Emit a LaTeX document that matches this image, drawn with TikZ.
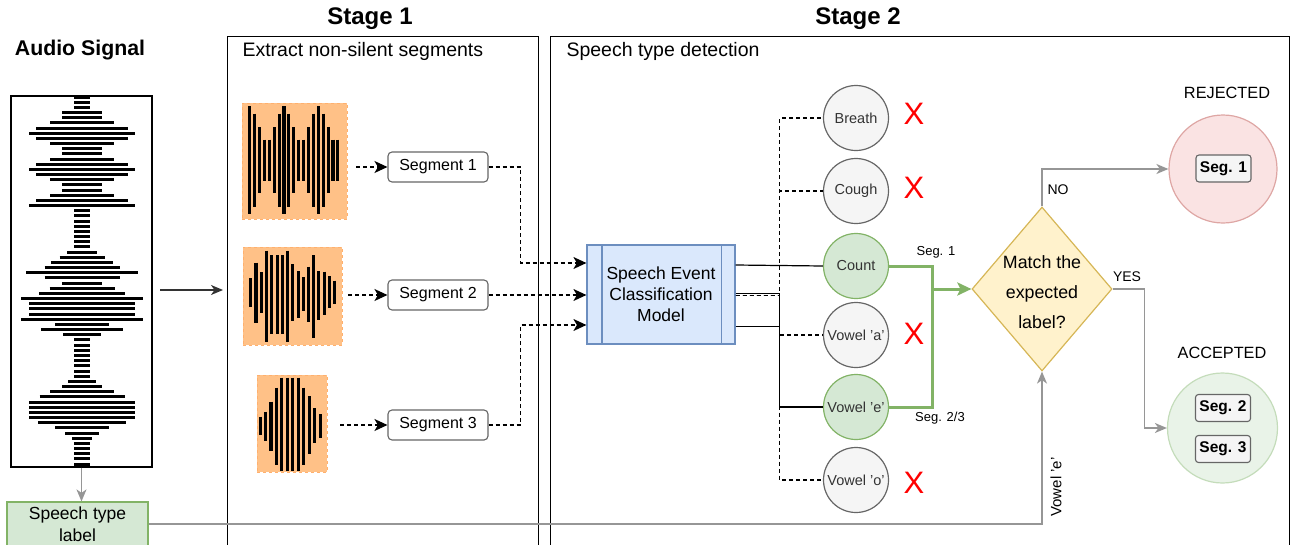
\documentclass[tikz,border=0pt]{standalone}
\usepackage{fontspec}
\setmainfont{Liberation Sans}
\usetikzlibrary{arrows.meta,shapes.geometric}

\definecolor{orangefill}{RGB}{255,193,135}
\definecolor{orangeline}{RGB}{255,176,110}
\definecolor{modelfill}{RGB}{218,232,252}
\definecolor{modelline}{RGB}{108,142,191}
\definecolor{greenfill}{RGB}{213,232,212}
\definecolor{greenline}{RGB}{130,179,102}
\definecolor{grayfill}{RGB}{245,245,245}
\definecolor{grayline}{RGB}{102,102,102}
\definecolor{textgray}{RGB}{51,51,51}
\definecolor{decfill}{RGB}{255,242,204}
\definecolor{decline}{RGB}{214,182,86}
\definecolor{rejfill}{RGB}{250,227,227}
\definecolor{rejline}{RGB}{222,166,164}
\definecolor{accfill}{RGB}{233,243,232}
\definecolor{accline}{RGB}{196,220,186}
\definecolor{arrowgray}{RGB}{150,150,150}

\begin{document}
\begin{tikzpicture}[x=1pt,y=-1pt,
  title/.style={font=\bfseries\fontsize{22}{26}\selectfont},
  boxlabel/.style={anchor=west,font=\fontsize{19.5}{23}\selectfont},
  stagebox/.style={draw=black,line width=1.4pt,anchor=north west,inner sep=0pt},
  wavebox/.style={fill=orangefill,draw=orangeline,dashed,line width=0.9pt,inner sep=0pt},
  bar/.style={line width=3.1pt,black},
  segbox/.style={draw=grayline,fill=white,rounded corners=4pt,line width=1.1pt,
    minimum width=100pt,minimum height=30pt,inner sep=0pt,font=\fontsize{16}{19}\selectfont},
  classnode/.style={circle,minimum size=65pt,inner sep=0pt,line width=1.2pt,
    font=\fontsize{14.5}{17}\selectfont,text=textgray},
  graycirc/.style={classnode,fill=grayfill,draw=grayline},
  okcirc/.style={classnode,fill=greenfill,draw=greenline},
  cross/.style={text=red,font=\fontsize{31}{31}\selectfont,inner sep=0pt},
  dashconn/.style={draw=black,line width=1.2pt,dash pattern=on 4pt off 3pt},
  dasharrow/.style={dashconn,-{Stealth[length=13pt,width=12pt,inset=3.5pt]}},
  solidconn/.style={draw=black,line width=1.2pt},
  grayarrow/.style={draw=arrowgray,line width=1.5pt,-{Stealth[length=12pt,width=10pt,inset=3.5pt]}},
  darkarrow/.style={draw=textgray,line width=1.3pt,-{Stealth[length=12pt,width=10pt,inset=3.5pt]}},
  greenconn/.style={draw=greenline,line width=3pt},
  greenarrow/.style={greenconn,-{Stealth[length=14pt,width=13pt,inset=3pt]}},
  tag/.style={font=\fontsize{13}{15}\selectfont,text=black},
  branch/.style={font=\fontsize{14}{16}\selectfont},
  segtag/.style={draw=grayline,fill=grayfill,rounded corners=3pt,line width=1.1pt,
    minimum width=55pt,minimum height=27pt,inner sep=0pt,font=\bfseries\fontsize{15.5}{18}\selectfont},
  state/.style={font=\fontsize{16.3}{19}\selectfont}
]
\useasboundingbox (0,0) rectangle (1296,544);
\clip (0,0) rectangle (1296,544);

% headings
\node[title,font=\bfseries\fontsize{21.3}{25}\selectfont] (ttlaudio) at (80,50) {Audio Signal};
\node[title,font=\bfseries\fontsize{24}{28}\selectfont] (ttlone) at (370,19) {Stage 1};
\node[title,font=\bfseries\fontsize{24}{28}\selectfont] (ttltwo) at (858,19) {Stage 2};

% stage frames
\node[stagebox,minimum width=311pt,minimum height=530pt] (stageone) at (227,36) {};
\node[stagebox,minimum width=739pt,minimum height=530pt] (stagetwo) at (550,36) {};
\node[boxlabel] (lblone) at (239,51) {Extract non-silent segments};
\node[boxlabel] (lbltwo) at (563,51) {Speech type detection};

% full audio signal
\node[draw=black,line width=1.4pt,minimum width=141pt,minimum height=371pt,inner sep=0pt] (audio) at (81.5,281.5) {};
\foreach \hw [count=\i from 0] in {8,8,8,20,20,32,46,53,46,32,20,20,32,46,53,46,32,20,20,32,46,53,
    8,8,8,8,8,8,8,8,
    15,22.5,31,37.5,56,37.5,20,32.5,43,61,53,53,53,61,27,41,19,
    8,8,8,8,8,8,8,8,
    14,20,32,42.5,53,53,53,53,44,27,17,10,
    8,8,8,8,8} {
  \pgfmathsetmacro\yy{97+5.17*\i}
  \draw[line width=3pt] ({82-\hw},\yy) -- ({82+\hw},\yy);
}

% speech type label
\node[draw=greenline,fill=greenfill,line width=1.2pt,minimum width=141pt,minimum height=44pt,
  inner sep=0pt,align=center,font=\fontsize{17.5}{21.5}\selectfont] (stlabel) at (77.5,524) {Speech type\\label};
\draw[grayarrow] (audio.south) -- (audio.south |- stlabel.north);

% audio into stage 1
\coordinate (feedA) at (160,290);
\coordinate (feedB) at (223,290);
\draw[darkarrow] (feedA) -- (feedB);

% non-silent segments
\node[wavebox,minimum width=105pt,minimum height=116pt] (wone) at (294.5,161) {};
\node[wavebox,minimum width=99pt,minimum height=98pt] (wtwo) at (292.5,296) {};
\node[wavebox,minimum width=70pt,minimum height=97pt] (wthree) at (292,423.5) {};

\foreach \h [count=\k from 0] in {54,46.5,33,20.5,20.5,33,46.5,54,46.5,33,20.5,20.5,33,46.5,54,46.5,33,20.5,20.5} {
  \pgfmathsetmacro\xx{249.7+4.9*\k}
  \draw[bar] (\xx,{160-\h}) -- (\xx,{160+\h});
}
\foreach \xx/\ya/\yb in {250.7/278.3/306.7, 256/262.7/322.7, 261.3/272.3/312.7, 266.7/250.7/342.3,
    271.9/255/334, 277.1/255/334, 282.3/255/334, 287.6/250.7/342.3, 292.9/264/320.7,
    298.1/271/318.3, 303.3/277.3/310.7, 308.5/266.7/321.7, 313.7/255/338.3,
    318.9/271/320, 324.1/271.7/315, 329.3/276/308.3, 334.4/280.7/304} {
  \draw[bar] (\xx,\ya) -- (\xx,\yb);
}
\foreach \xx/\ya/\yb in {260.3/416.7/435, 265.7/411.7/441, 271/401.7/451, 276.5/387.7/465,
    281.9/377.7/471, 287.3/377.7/471, 292.7/377.7/471, 298.1/377.7/471,
    303.6/387.7/465, 309.2/396/454.3, 314.8/408.3/443.3, 320.3/414.3/438.3} {
  \draw[bar] (\xx,\ya) -- (\xx,\yb);
}

\node[segbox] (segone) at (438,167) {Segment 1};
\node[segbox] (segtwo) at (438,295) {Segment 2};
\node[segbox] (segthree) at (438,425) {Segment 3};

\draw[dasharrow] ([xshift=9pt]wone.east |- segone.west) -- (segone.west);
\draw[dasharrow] ([xshift=6pt]wtwo.east |- segtwo.west) -- (segtwo.west);
\draw[dasharrow] ([xshift=13pt]wthree.east |- segthree.west) -- (segthree.west);

% classifier
\node[draw=modelline,fill=modelfill,line width=1.2pt,minimum width=148pt,minimum height=99pt,
  inner sep=0pt] (model) at (661,294.5) {};
\draw[draw=modelline,line width=1.2pt] ([xshift=15.5pt]model.north west) -- ([xshift=15.5pt]model.south west);
\draw[draw=modelline,line width=1.2pt] ([xshift=-14.5pt]model.north east) -- ([xshift=-14.5pt]model.south east);
\node[align=center,font=\fontsize{17.5}{21}\selectfont] (modeltext) at (661,294) {Speech Event\\Classification\\Model};

\draw[dasharrow] (segone.east) -- ++(32,0) |- ([yshift=31.5pt]model.west);
\draw[dasharrow] (segtwo.east) -- (model.west |- segtwo.east);
\draw[dasharrow] (segthree.east) -- ++(32,0) |- ([yshift=-30.5pt]model.west);

% speech classes
\node[graycirc] (breath) at (856,118) {Breath};
\node[graycirc] (cough) at (856,191) {Cough};
\node[okcirc] (count) at (856,266) {Count};
\node[graycirc] (vowa) at (856,335) {Vowel 'a'};
\node[okcirc] (vowe) at (856,407) {Vowel 'e'};
\node[graycirc] (vowo) at (856,480) {Vowel 'o'};

\node[cross] (xb) at (914,114) {X};
\node[cross] (xc) at (914,188) {X};
\node[cross] (xa) at (914,334) {X};
\node[cross] (xo) at (914,483) {X};

\draw[solidconn] ([yshift=29.5pt]model.east) -- (count.west);
\draw[dashconn] ([yshift=-1pt]model.east) -- ++(44,0) |- (breath.west);
\draw[dashconn] ([yshift=-1pt]model.east) -- ++(44,0) |- (cough.west);
\draw[dashconn] ([yshift=-1pt]model.east) -- ++(44,0) |- (vowa.west);
\draw[dashconn] ([yshift=-1pt]model.east) -- ++(44,0) |- (vowo.west);
\draw[solidconn] ([yshift=1pt]model.east) -- ++(44,0) |- (vowe.west);
\draw[solidconn] ([yshift=-32pt]model.east) -- ++(44,0) |- (vowe.west);

% decision
\node[diamond,draw=decline,fill=decfill,line width=1.2pt,minimum width=140pt,minimum height=164pt,
  inner sep=0pt] (decide) at (1042,289) {};
\node[align=center,font=\fontsize{17.8}{29.8}\selectfont] (decidetext) at (1042,292) {Match the\\expected\\label?};

\coordinate (merge) at (932,289);
\draw[greenconn] (count.east) -| (merge);
\draw[greenconn] (vowe.east) -| (merge);
\draw[greenarrow] (merge) -- (decide.west);
\node[tag] (tagone) at (936,252) {Seg. 1};
\node[tag] (tagtwo) at (940,418) {Seg. 2/3};

\draw[grayarrow] (stlabel.east) -| (decide.south);
\node[font=\fontsize{15}{18}\selectfont,rotate=90] (vowtag) at (1056,487) {Vowel 'e'};

% outcomes
\node[state] (rejtitle) at (1227,93) {REJECTED};
\node[circle,draw=rejline,fill=rejfill,line width=1.2pt,minimum size=108pt,inner sep=0pt] (rej) at (1223,169) {};
\node[segtag] (rseg) at (1223.5,168.5) {Seg. 1};

\node[state] (acctitle) at (1222,353) {ACCEPTED};
\node[circle,draw=accline,fill=accfill,line width=1.2pt,minimum size=110pt,inner sep=0pt] (acc) at (1222.5,428) {};
\node[segtag] (aseg) at (1223,408) {Seg. 2};
\node[segtag] (bseg) at (1223,449) {Seg. 3};

\draw[grayarrow] (decide.north) |- (rej.west);
\node[branch] (notag) at (1058,190) {NO};
\draw[grayarrow] (decide.east) -- ++(32,0) |- (acc.west);
\node[branch] (yestag) at (1127,277) {YES};
\end{tikzpicture}
\end{document}
